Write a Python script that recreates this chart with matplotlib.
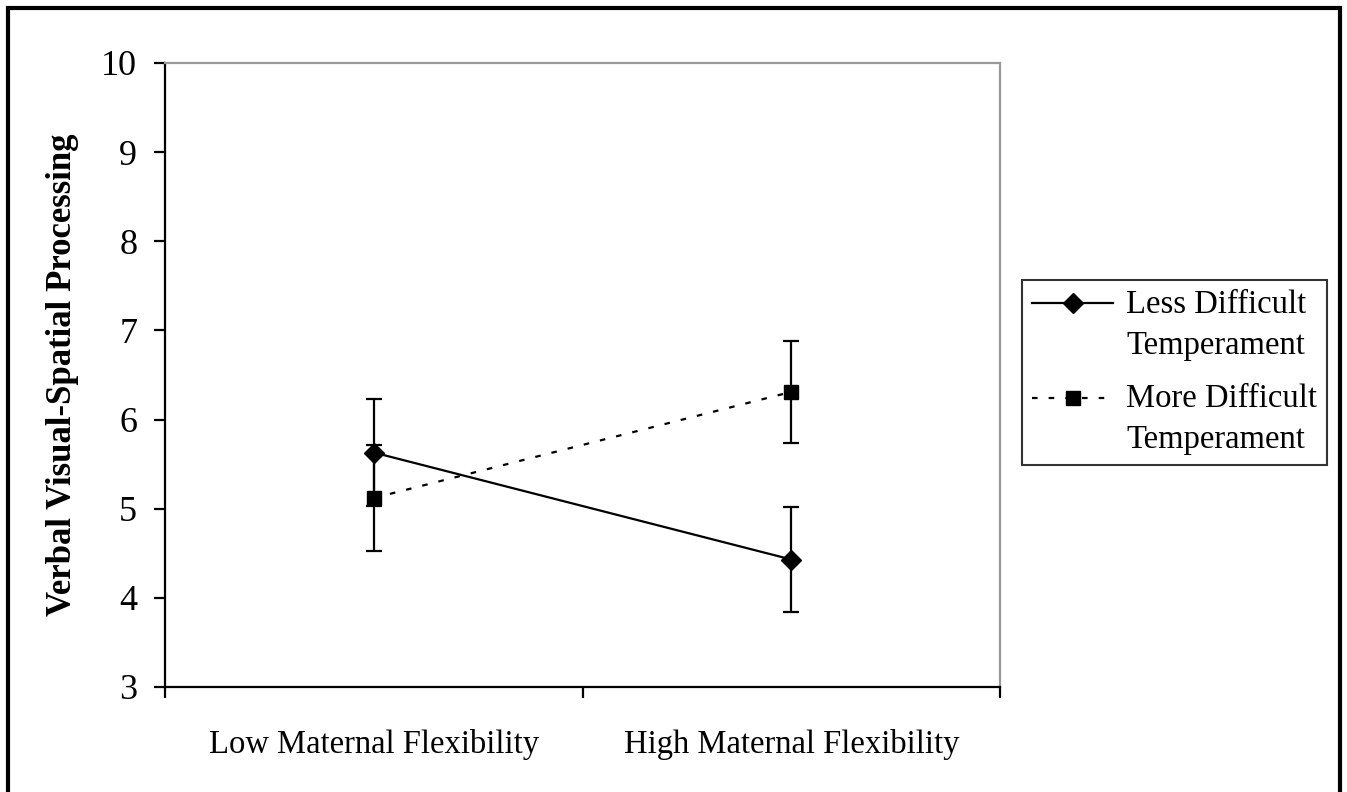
import numpy as np
import matplotlib.pyplot as plt
from matplotlib.patches import Rectangle
from matplotlib.legend_handler import HandlerLine2D

plt.rcParams['font.family'] = ['Liberation Serif', 'DejaVu Serif']

categories = ["Low Maternal Flexibility", "High Maternal Flexibility"]
less_vals = [5.63, 4.43]
less_err = [0.60, 0.59]
more_vals = [5.12, 6.31]
more_err = [0.60, 0.57]
yticks = [3, 4, 5, 6, 7, 8, 9, 10]


# legend handle sits level with the first line of its two-line label
class HandlerFirstLine(HandlerLine2D):
    def create_artists(self, legend, orig_handle, xdescent, ydescent,
                       width, height, fontsize, trans):
        arts = super().create_artists(legend, orig_handle, xdescent, ydescent,
                                      width, height, fontsize, trans)
        for a in arts:
            a.set_ydata(np.asarray(a.get_ydata()) + 0.68 * fontsize)
        return arts


fig = plt.figure(figsize=(13.47, 7.92), dpi=100)
ax = fig.add_axes([0.1225, 0.1326, 0.6199, 0.7879])

xpos = [0.5, 1.5]
dots = (0, (2.5, 5))

ax.errorbar(xpos, less_vals, yerr=less_err, color="black", lw=1.6, marker="D",
            ms=10, capsize=5.5, capthick=1.6, elinewidth=1.6, label="Less Difficult\nTemperament")
ax.errorbar(xpos, more_vals, yerr=more_err, color="black", lw=1.6, ls=dots,
            marker="s", ms=10, capsize=5.5, capthick=1.6, elinewidth=1.6,
            label="More Difficult\nTemperament")

ax.set_xlim(0, 2)
ax.set_ylim(3, 10)
ax.set_yticks(yticks)
ax.set_xticks([0, 1, 2])
ax.set_xticklabels([])
ax.set_xticks(xpos, minor=True)
ax.set_xticklabels(categories, minor=True, fontsize=23.5)
ax.tick_params(axis="x", which="minor", length=0, pad=30)
ax.tick_params(axis="x", which="major", direction="out", length=8, width=1.6)
ax.tick_params(axis="y", direction="out", length=8, width=1.6, labelsize=26, pad=12)

for s in ["left", "bottom"]:
    ax.spines[s].set_linewidth(1.6)
for s in ["top", "right"]:
    ax.spines[s].set_color("#999999")
    ax.spines[s].set_linewidth(1.6)

ax.set_ylabel("Verbal Visual-Spatial Processing", fontsize=25, fontweight="bold", labelpad=16)

handles, labels = ax.get_legend_handles_labels()
handles = [h[0] for h in handles]
leg = fig.legend(handles, labels, loc="center left", bbox_to_anchor=(0.7587, 0.5297),
                 fontsize=23.5, frameon=True, fancybox=False, edgecolor="black",
                 handlelength=2.5, borderpad=0.3, labelspacing=0.7, handletextpad=0.4,
                 borderaxespad=0,
                 handler_map={h: HandlerFirstLine() for h in handles})
for t in leg.get_texts():
    t.set_linespacing(1.45)
leg.get_frame().set_linewidth(1.5)

fig.patches.append(Rectangle((8 / 1347, -0.02), 1332 / 1347, 1 - 8 / 792 + 0.02,
                             transform=fig.transFigure, fill=False,
                             edgecolor="black", lw=3))

fig.savefig("out.png", dpi=100)
